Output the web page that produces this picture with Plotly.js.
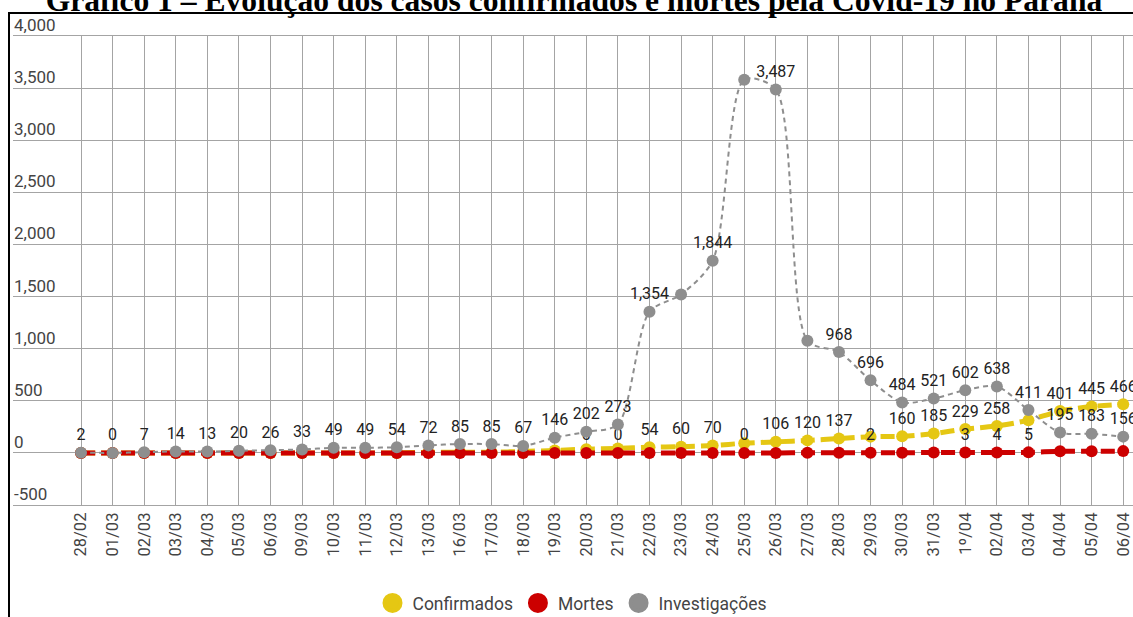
<!DOCTYPE html>
<html>
<head>
<meta charset="utf-8">
<script src="https://cdn.plot.ly/plotly-3.0.1.min.js"></script>
<style>
html,body{margin:0;padding:0;background:#fff;}
#chart{width:1133px;height:617px;}
</style>
</head>
<body>
<div id="chart"></div>
<script>
const categories = ['28/02','01/03','02/03','03/03','04/03','05/03','06/03','09/03','10/03','11/03','12/03','13/03','16/03','17/03','18/03','19/03','20/03','21/03','22/03','23/03','24/03','25/03','26/03','27/03','28/03','29/03','30/03','31/03','1º/04','02/04','03/04','04/04','05/04','06/04'];

const confirmados = [0,0,0,0,0,0,0,0,0,0,0,6,6,6,14,23,36,43,54,60,70,93,106,120,137,156,160,185,229,258,314,401,445,466];
const mortes = [0,0,0,0,0,0,0,0,0,0,0,0,0,0,0,0,0,0,0,0,0,0,0,1,1,2,2,3,3,4,5,15,16,17];
const investigacoes = [2,0,7,14,13,20,26,33,49,49,54,72,85,85,67,146,202,273,1354,1520,1844,3580,3487,1077,968,696,484,521,602,638,411,195,183,156];

// which data labels are visible in the original (1 = shown)
const labelsConfirmados = [0,0,0,0,0,0,0,0,0,0,0,0,0,0,0,0,0,0,1,1,1,0,1,1,1,0,1,1,1,1,0,1,1,1];
const labelsMortes      = [0,0,0,0,0,0,0,0,0,0,0,0,0,0,0,0,1,1,0,0,0,1,0,0,0,1,0,0,1,1,1,0,0,0];
const labelsInvestig    = [1,1,1,1,1,1,1,1,1,1,1,1,1,1,1,1,1,1,1,0,1,0,1,0,1,1,1,1,1,1,1,1,1,1];

const seriesNames = ['Confirmados','Mortes','Investigações'];
const seriesColors = ['#e5c713','#cc0000','#8e8e8e'];

const yTickVals = [-500,0,500,1000,1500,2000,2500,3000,3500,4000];
const yTickText = ['-500','0','500','1,000','1,500','2,000','2,500','3,000','3,500','4,000'];

const titleText = 'Gráfico 1 – Evolução dos casos confirmados e mortes pela Covid-19 no Paraná';

function fmt(v){ return v.toLocaleString('en-US'); }
function labels(vals, mask){ return vals.map((v,i)=> mask[i] ? fmt(v) : ''); }

const labelFont = {family:'Roboto', size:16, color:'#222'};
const gridColor = '#a4a4a4';

const traces = [
  {
    x: categories, y: confirmados, name: seriesNames[0], type:'scatter',
    mode:'lines+markers+text', text: labels(confirmados, labelsConfirmados),
    textposition:'top center', textfont: labelFont, cliponaxis:false,
    line:{color:seriesColors[0], width:5, dash:'14px,6px', shape:'spline', smoothing:0.8},
    marker:{color:seriesColors[0], size:12}, showlegend:false, hoverinfo:'x+y'
  },
  {
    x: categories, y: mortes, name: seriesNames[1], type:'scatter',
    mode:'lines+markers+text', text: labels(mortes, labelsMortes),
    textposition:'top center', textfont: labelFont, cliponaxis:false,
    line:{color:seriesColors[1], width:5, dash:'14px,6px', shape:'spline', smoothing:0.8},
    marker:{color:seriesColors[1], size:12}, showlegend:false, hoverinfo:'x+y'
  },
  {
    x: categories, y: investigacoes, name: seriesNames[2], type:'scatter',
    mode:'lines+markers+text', text: labels(investigacoes, labelsInvestig),
    textposition:'top center', textfont: labelFont, cliponaxis:false,
    line:{color:seriesColors[2], width:2, dash:'5px,4px', shape:'spline', smoothing:0.8},
    marker:{color:seriesColors[2], size:12}, showlegend:false, hoverinfo:'x+y'
  }
];
// legend entries (circle symbols only)
seriesNames.forEach((n,k)=>{
  traces.push({x:[null], y:[null], name:n, type:'scatter', mode:'markers',
    marker:{color:seriesColors[k], size:16, line:{color:seriesColors[k], width:4}},
    showlegend:true, hoverinfo:'skip'});
});

// plot area: x 13..1133 px, y 36 (4,000) .. 505 (-500) px
const W = 1133, H = 617, L = 13, T = 36, B = 112;
const pw = W - L, ph = H - T - B;
function px2paperX(px){ return (px - L)/pw; }
function px2paperY(py){ return (H - B - py)/ph; }

// y-axis labels sit above their gridlines, inside the plot (left aligned)
const yLabelAnnotations = yTickVals.map((v,i)=>({
  xref:'paper', yref:'y', x:0, y:v, xanchor:'left', yanchor:'bottom',
  text: yTickText[i], showarrow:false, xshift:-1, yshift:-1,
  font:{family:'Roboto', size:17, color:'#444'}
}));

const layout = {
  width: W, height: H,
  margin: {l:L, r:0, t:T, b:B, autoexpand:false},
  paper_bgcolor:'#fff', plot_bgcolor:'#fff',
  font: {family:'Roboto', color:'#444'},
  title: {
    text: '<b>' + titleText + '</b>',
    font: {family:'Liberation Serif', size:31.6, color:'#000'},
    xref:'container', yref:'container', x: 574/1133, y: 1, xanchor:'center', yanchor:'middle'
  },
  xaxis: {
    type:'category', range:[-2.153, 33.31], tickangle:-90,
    showgrid:true, gridcolor:gridColor, gridwidth:1, ticks:'', zeroline:false,
    showline:true, mirror:true, linecolor:gridColor, linewidth:1,
    tickfont:{family:'Roboto', size:16.5, color:'#444'}, fixedrange:true
  },
  yaxis: {
    range:[-500, 4000], tickvals: yTickVals, showticklabels:false,
    showgrid:true, gridcolor:gridColor, gridwidth:1,
    zeroline:false, showline:false, ticks:'', fixedrange:true
  },
  legend: {
    orientation:'h', xref:'container', yref:'container', x: 572/1133, y: (617-603)/617,
    xanchor:'center', yanchor:'middle', font:{family:'Roboto', size:17.5, color:'#444'},
    itemclick:false, itemdoubleclick:false, tracegroupgap:0
  },
  annotations: yLabelAnnotations,
  shapes: [
    {type:'line', xref:'paper', yref:'paper', x0:px2paperX(9), x1:px2paperX(9), y0:px2paperY(12), y1:px2paperY(620), line:{color:'#000', width:2}},
    {type:'line', xref:'paper', yref:'paper', x0:px2paperX(8), x1:px2paperX(1140), y0:px2paperY(13), y1:px2paperY(13), line:{color:'#000', width:2}}
  ],
  showlegend:true
};

Plotly.newPlot('chart', traces, layout, {displayModeBar:false, responsive:false});
</script>
</body>
</html>
